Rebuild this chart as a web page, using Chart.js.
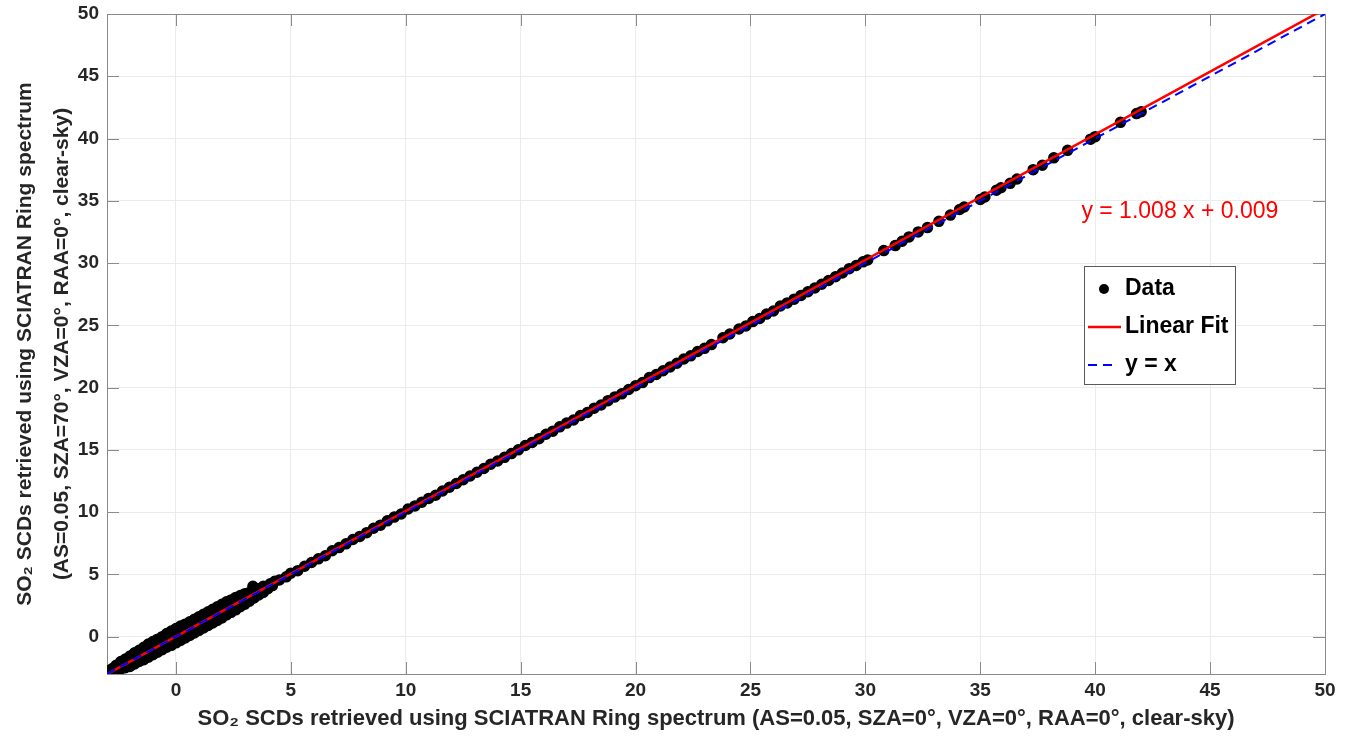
<!DOCTYPE html>
<html>
<head>
<meta charset="utf-8">
<script src="https://cdn.jsdelivr.net/npm/chart.js@4.4.1/dist/chart.umd.min.js"></script>
<style>
  html, body { margin: 0; padding: 0; background: #fff; }
  #wrap { width: 1352px; height: 737px; }
</style>
</head>
<body>
<div id="wrap"><canvas id="so2Chart" width="1352" height="737"></canvas></div>
<script>
// data (SCD in the two setups)
const dataX = [
  -3.0, -2.9, -2.8, -2.8, -2.7, -2.6, -2.6, -2.5, -2.4, -2.4, -2.3, -2.2, -2.2, -2.1, -2.0, -2.0,
  -1.9, -1.8, -1.8, -1.7, -1.6, -1.6, -1.5, -1.4, -1.4, -1.3, -1.2, -1.2, -1.1, -1.0, -1.0, -0.9,
  -0.8, -0.8, -0.7, -0.6, -0.6, -0.5, -0.4, -0.4, -0.3, -0.2, -0.2, -0.1, 0.0, 0.0, 0.1, 0.2,
  0.2, 0.3, 0.4, 0.4, 0.5, 0.6, 0.6, 0.7, 0.8, 0.8, 0.9, 1.0, 1.0, 1.1, 1.2, 1.2, 1.3, 1.4,
  1.4, 1.5, 1.6, 1.6, 1.7, 1.8, 1.8, 1.9, 2.0, 2.0, 2.1, 2.2, 2.2, 2.3, 2.4, 2.4, 2.5, 2.6,
  2.6, 2.7, 2.8, 2.8, 2.9, 3.0, 3.0, 3.1, 3.2, 3.2, 3.35, 3.4, 3.4, 3.5, 3.6, 3.6, 3.8, 3.8,
  3.9, 4.0, 4.1, 4.2, 4.3,
  4.5, 4.8, 5.0, 5.3, 5.6, 5.9, 6.2, 6.5, 6.8, 7.1, 7.4, 7.7, 8.0, 8.3, 8.6, 8.9, 9.2, 9.5,
  9.8, 10.1, 10.4, 10.7, 11.0, 11.3, 11.6, 11.9, 12.2, 12.5, 12.8, 13.1, 13.4, 13.7, 14.0, 14.3,
  14.6, 14.9, 15.2, 15.5, 15.8, 16.1, 16.4, 16.7, 17.0, 17.3, 17.6, 17.9, 18.2, 18.5, 18.8, 19.1,
  19.4, 19.7, 20.0, 20.3, 20.6, 20.9, 21.2, 21.5, 21.8, 22.1, 22.4, 22.7, 23.0, 23.3, 23.8, 24.1,
  24.5, 24.8, 25.1, 25.4, 25.7, 26.0, 26.3, 26.6, 26.9, 27.2, 27.5, 27.8, 28.1, 28.4, 28.7, 29.0,
  29.3, 29.6, 29.9, 30.1,
  30.8, 31.3, 31.6, 31.9, 32.3, 32.7, 33.2, 33.7, 34.1, 34.3, 35.0, 35.2, 35.7, 35.9, 36.3, 36.6,
  37.3, 37.7, 38.2, 38.8, 39.8, 40.0, 41.1, 41.8, 42.0
];
const dataY = [
  -3.0, -2.95, -2.85, -2.6, -2.5, -2.7, -2.3, -2.45, -2.6, -2.0, -2.25, -2.5, -1.8, -2.05, -2.4, -1.55,
  -1.9, -2.2, -1.3, -1.7, -2.0, -1.1, -1.5, -1.85, -0.85, -1.3, -1.65, -0.6, -1.05, -1.45, -0.4, -0.9,
  -1.25, -0.2, -0.65, -1.05, 0.0, -0.45, -0.85, 0.25, -0.3, -0.7, 0.45, -0.05, -0.5, 0.65, 0.15, -0.3,
  0.85, 0.3, -0.1, 1.0, 0.5, 0.1, 1.2, 0.7, 0.3, 1.4, 0.9, 0.5, 1.6, 1.1, 0.7, 1.8, 1.3, 0.9,
  2.0, 1.5, 1.1, 2.2, 1.75, 1.3, 2.4, 1.9, 1.5, 2.6, 2.1, 1.75, 2.8, 2.3, 1.95, 2.95, 2.55, 2.15,
  3.15, 2.7, 2.4, 3.3, 2.95, 2.6, 3.45, 3.1, 2.85, 3.55, 4.05, 3.1, 3.7, 3.5, 3.35, 3.85, 3.55, 4.05,
  3.85, 3.85, 4.25, 4.1, 4.45,
  4.55, 4.8, 5.1, 5.3, 5.65, 5.95, 6.25, 6.5, 6.9, 7.15, 7.45, 7.8, 8.05, 8.35, 8.7, 8.95, 9.3, 9.6,
  9.85, 10.25, 10.5, 10.8, 11.1, 11.35, 11.7, 12.0, 12.3, 12.6, 12.9, 13.2, 13.5, 13.85, 14.1, 14.4,
  14.7, 15.0, 15.35, 15.6, 15.9, 16.25, 16.5, 16.85, 17.15, 17.4, 17.75, 18.0, 18.35, 18.6, 18.95, 19.25,
  19.5, 19.85, 20.15, 20.4, 20.8, 21.05, 21.35, 21.65, 21.95, 22.3, 22.55, 22.9, 23.15, 23.45, 24.0, 24.3,
  24.7, 24.95, 25.3, 25.55, 25.9, 26.15, 26.55, 26.8, 27.1, 27.4, 27.7, 28.0, 28.3, 28.6, 28.9, 29.2,
  29.55, 29.8, 30.1, 30.25,
  31.0, 31.4, 31.75, 32.1, 32.5, 32.85, 33.35, 33.85, 34.3, 34.5, 35.1, 35.3, 35.85, 36.05, 36.4, 36.75,
  37.5, 37.85, 38.45, 39.05, 39.95, 40.15, 41.3, 42.0, 42.15
];

// linear fit y = 1.008 x + 0.009 and the 1:1 line, end points
const fitX = [-3, 50];
const fitY = [-3.015, 50.409];
const oneX = [-3, 50];
const oneY = [-3, 50];

const xTickValues = [0, 5, 10, 15, 20, 25, 30, 35, 40, 45, 50];
const yTickValues = [0, 5, 10, 15, 20, 25, 30, 35, 40, 45, 50];

const fitLabel = 'y = 1.008 x + 0.009';
const fitLabelAt = [39.4, 34.1];

const legendNames = ['Data', 'Linear Fit', 'y = x'];

const FONT = "'Liberation Sans', Arial, Helvetica, sans-serif";

const toPoints = (xs, ys) => xs.map((x, i) => ({ x: x, y: ys[i] }));

const ctx = document.querySelector('#so2Chart');

// box around the axes with inward tick marks, like matlab
const boxPlugin = {
    id: 'boxPlugin',
    beforeDatasetsDraw(chart) {
        const c = chart.ctx;
        const a = chart.chartArea;
        const sx = chart.scales.x;
        const sy = chart.scales.y;
        const tl = 12;
        c.save();
        c.strokeStyle = '#8a8a8a';
        c.lineWidth = 1;
        c.beginPath();
        xTickValues.forEach(v => {
            const px = Math.round(sx.getPixelForValue(v)) + 0.5;
            c.moveTo(px, a.bottom); c.lineTo(px, a.bottom - tl);
            c.moveTo(px, a.top); c.lineTo(px, a.top + tl);
        });
        yTickValues.forEach(v => {
            const py = Math.round(sy.getPixelForValue(v)) + 0.5;
            c.moveTo(a.left, py); c.lineTo(a.left + tl, py);
            c.moveTo(a.right, py); c.lineTo(a.right - tl, py);
        });
        c.stroke();
        c.strokeRect(Math.round(a.left) + 0.5, Math.round(a.top) + 0.5,
            Math.round(a.right - a.left), Math.round(a.bottom - a.top));
        c.restore();
    },
    afterDraw(chart) {
        const c = chart.ctx;
        const sx = chart.scales.x;
        const sy = chart.scales.y;
        c.save();
        // fit equation
        c.fillStyle = '#ff0000';
        c.font = '23px ' + FONT;
        c.textBaseline = 'middle';
        c.textAlign = 'left';
        c.fillText(fitLabel, sx.getPixelForValue(fitLabelAt[0]), sy.getPixelForValue(fitLabelAt[1]));

        // legend
        const lx = 1084, ly = 266, lw = 151, lh = 118;
        c.fillStyle = '#ffffff';
        c.fillRect(lx, ly, lw, lh);
        c.strokeStyle = '#5a5a5a';
        c.lineWidth = 1;
        c.strokeRect(lx + 0.5, ly + 0.5, lw, lh);
        const rows = [289, 327, 365];
        c.font = 'bold 23px ' + FONT;
        c.fillStyle = '#000';
        legendNames.forEach((n, i) => c.fillText(n, 1125, rows[i]));
        c.beginPath();
        c.arc(1104, rows[0], 5, 0, Math.PI * 2);
        c.fillStyle = '#000';
        c.fill();
        c.strokeStyle = '#ff0000';
        c.lineWidth = 2.5;
        c.beginPath();
        c.moveTo(1088, rows[1]); c.lineTo(1121, rows[1]);
        c.stroke();
        c.strokeStyle = '#0000ff';
        c.lineWidth = 2;
        c.setLineDash([9, 6]);
        c.beginPath();
        c.moveTo(1088, rows[2]); c.lineTo(1118, rows[2]);
        c.stroke();
        c.restore();
    }
};

new Chart(ctx, {
    type: 'scatter',
    data: {
        datasets: [
            {
                label: legendNames[2],
                data: toPoints(oneX, oneY),
                showLine: true,
                borderColor: '#0000ff',
                borderWidth: 2,
                borderDash: [9, 6],
                pointRadius: 0,
                order: 0
            },
            {
                label: legendNames[1],
                data: toPoints(fitX, fitY),
                showLine: true,
                borderColor: '#ff0000',
                borderWidth: 2.5,
                pointRadius: 0,
                order: 1
            },
            {
                label: legendNames[0],
                data: toPoints(dataX, dataY),
                backgroundColor: '#000000',
                borderColor: '#000000',
                borderWidth: 1.5,
                pointRadius: 5,
                order: 2
            }
        ]
    },
    options: {
        responsive: false,
        animation: false,
        layout: { padding: { left: 0, right: 27, top: 14, bottom: 0 } },
        plugins: {
            legend: { display: false },
            tooltip: { enabled: false }
        },
        scales: {
            x: {
                type: 'linear',
                min: -3,
                max: 50,
                afterBuildTicks: s => { s.ticks = xTickValues.map(v => ({ value: v })); },
                afterFit: s => { s.height = 63; s.paddingLeft = 0; s.paddingRight = 0; },
                ticks: {
                    color: '#262626',
                    font: { family: FONT, size: 19, weight: 'bold' },
                    padding: 5,
                    maxRotation: 0
                },
                grid: { color: '#ebebeb', drawTicks: false },
                border: { display: false },
                title: {
                    display: true,
                    text: 'SO\u2082 SCDs retrieved using SCIATRAN Ring spectrum (AS=0.05, SZA=0\u00b0, VZA=0\u00b0, RAA=0\u00b0, clear-sky)',
                    color: '#262626',
                    font: { family: FONT, size: 22, weight: 'bold' },
                    padding: { top: 0, bottom: 5 }
                }
            },
            y: {
                type: 'linear',
                min: -3,
                max: 50,
                afterBuildTicks: s => { s.ticks = yTickValues.map(v => ({ value: v })); },
                afterFit: s => { s.width = 107; s.paddingTop = 0; s.paddingBottom = 0; },
                ticks: {
                    color: '#262626',
                    font: { family: FONT, size: 19, weight: 'bold' },
                    padding: 8
                },
                grid: { color: '#ebebeb', drawTicks: false },
                border: { display: false },
                title: {
                    display: true,
                    text: ['SO\u2082 SCDs retrieved using SCIATRAN Ring spectrum',
                           '(AS=0.05, SZA=70\u00b0, VZA=0\u00b0, RAA=0\u00b0, clear-sky)'],
                    color: '#262626',
                    font: { family: FONT, size: 21, weight: 'bold', lineHeight: 1.76 },
                    padding: { top: 7, bottom: 0 }
                }
            }
        }
    },
    plugins: [boxPlugin]
});
</script>
</body>
</html>
